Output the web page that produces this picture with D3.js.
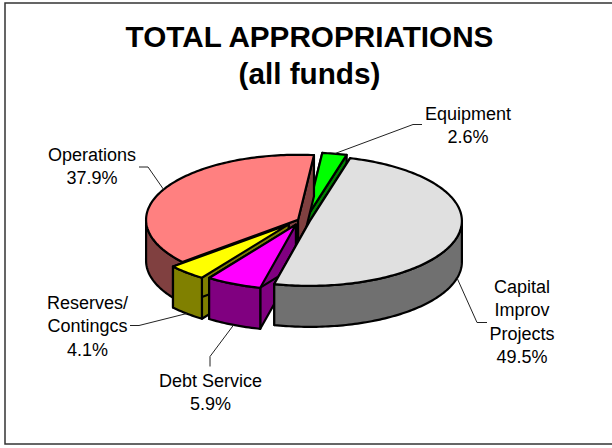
<!DOCTYPE html>
<html>
<head>
<meta charset="utf-8">
<script src="https://d3js.org/d3.v7.min.js"></script>
<style>
html,body{margin:0;padding:0;background:#fff;overflow:hidden}
svg{display:block}
text{font-family:"Liberation Sans",Arial,sans-serif;fill:#000}
</style>
</head>
<body>
<svg id="chart" width="612" height="448"></svg>
<script>
// Budget shares, clockwise from the top of the pie
const categories = ["Equipment", "Capital Improv Projects", "Debt Service", "Reserves/ Contingcs", "Operations"];
const shares = [2.6, 49.5, 5.9, 4.1, 37.9];
const explodeFractions = [0.085, 0.04, 0.13, 0.15, 0.044];
const topColors = ["#00FF00", "#E0E0E0", "#FF00FF", "#FFFF00", "#FF8080"];
const wallColors = ["#008000", "#707070", "#800080", "#808000", "#804040"];
const titleLines = ["TOTAL APPROPRIATIONS", "(all funds)"];
const labelLines = [["Equipment", "2.6%"], ["Capital", "Improv", "Projects", "49.5%"], ["Debt Service", "5.9%"], ["Reserves/", "Contingcs", "4.1%"], ["Operations", "37.9%"]];

const svg = d3.select("#chart");
const cx = 304, cy = 220.5, rx = 152, ry = 65, depth = 41;
const explodeTilt = 0.23;
const startDeg = 6;

// Frame runs past the right edge of the page
svg.append("rect").attr("x", 5).attr("y", 3).attr("width", 640).attr("height", 441)
  .attr("fill", "#fff").attr("stroke", "#333").attr("stroke-width", 1.5);

svg.selectAll("text.title").data(titleLines).join("text")
  .attr("class", "title").attr("x", 309.5).attr("y", (d, i) => 46.5 + i * 37.5)
  .attr("text-anchor", "middle").attr("font-size", 29.7).attr("font-weight", "bold").text(d => d);

const arcs = d3.pie().sort(null)
  .startAngle(startDeg * Math.PI / 180)
  .endAngle((startDeg + 360) * Math.PI / 180)(shares);

const line = d3.line();

// Per-slice projected geometry: each slice is pushed out along its mid angle
const slices = arcs.map((a, i) => {
  const mid = (a.startAngle + a.endAngle) / 2;
  const er = explodeFractions[i] * rx;
  const ox = cx + er * Math.sin(mid);
  const oy = cy - er * explodeTilt * Math.cos(mid);
  const rim = t => [ox + rx * Math.sin(t), oy - ry * Math.cos(t)];
  return {i, a, mid, ox, oy, rim};
});

function sweep(s, t0, t1) {
  const n = Math.max(2, Math.ceil(Math.abs(t1 - t0) / 0.02));
  return d3.range(n + 1).map(k => s.rim(t0 + (t1 - t0) * k / n));
}

const down = p => [p[0], p[1] + depth];
// Back-to-front: later slices cover the cut faces of earlier ones
const paint = [0, 4, 3, 2, 1];
const stroke = g => g.attr("stroke", "#000").attr("stroke-width", 2.2).attr("stroke-linejoin", "round");

paint.forEach(idx => {
  const s = slices[idx], g = svg.append("g").call(stroke);
  const t0 = s.a.startAngle, t1 = s.a.endAngle;
  const apex = [s.ox, s.oy];
  // radial cut faces
  [t0, t1].forEach(t => {
    const p = s.rim(t);
    g.append("path").attr("fill", wallColors[idx])
      .attr("d", line([apex, p, down(p), down(apex)]) + "Z");
  });
  // outer wall, front half of the ellipse only
  const lo = Math.max(t0, Math.PI / 2), hi = Math.min(t1, 3 * Math.PI / 2);
  if (hi > lo) {
    const edge = sweep(s, lo, hi);
    g.append("path").attr("fill", wallColors[idx])
      .attr("d", line(edge.concat(edge.slice().reverse().map(down))) + "Z");
  }
  // top surface
  g.append("path").attr("fill", topColors[idx])
    .attr("d", line([apex].concat(sweep(s, t0, t1))) + "Z");
});

// Leader lines run from each slice's rim to its label; front slices start at the wall's lower edge
const leaderEnds = [
  [[413, 124.5], [422, 124.5]],
  [[477, 322.5], [487, 322.5]],
  [[210, 356.5], [210, 366.5]],
  [[139, 325.5], [130, 325.5]],
  [[148, 167], [139, 167]]
];
const startsOnWall = [false, true, true, true, false];
slices.forEach((s, i) => {
  const p = s.rim(s.mid);
  svg.append("path").attr("fill", "none").attr("stroke", "#222").attr("stroke-width", 1)
    .attr("d", line([startsOnWall[i] ? down(p) : p].concat(leaderEnds[i])));
});

const labelAt = [[468, 119.5], [522, 293], [210.5, 387], [87.5, 309], [92, 161]];
labelLines.forEach((lines, i) => {
  svg.selectAll(null).data(lines).join("text")
    .attr("x", labelAt[i][0]).attr("y", (d, k) => labelAt[i][1] + k * 23.3)
    .attr("text-anchor", "middle").attr("font-size", 18).text(d => d);
});
</script>
</body>
</html>
